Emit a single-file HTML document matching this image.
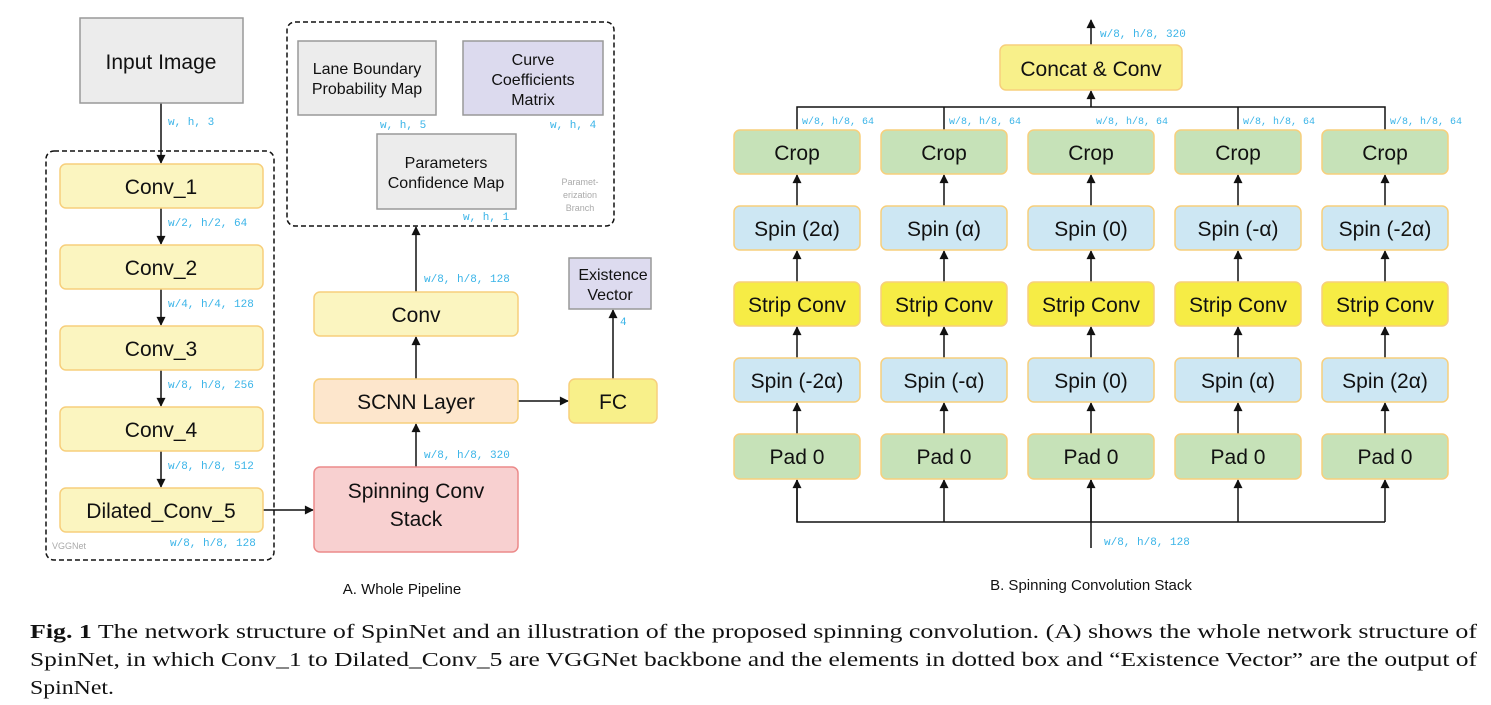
<!DOCTYPE html>
<html><head><meta charset="utf-8"><style>
body{margin:0;background:#fff;width:1491px;height:705px;overflow:hidden}
svg{display:block}
.t{font-family:"Liberation Sans",sans-serif;fill:#111;text-anchor:middle}
.m{font-family:"Liberation Mono",monospace;font-size:11px;fill:#3ab4e8}
.cap{font-family:"Liberation Serif",serif;font-size:20px;fill:#111}
</style></head><body>
<svg width="1491" height="705" viewBox="0 0 1491 705">
<defs><marker id="a" viewBox="0 0 10 10" refX="9" refY="5" markerWidth="10" markerHeight="9" markerUnits="userSpaceOnUse" orient="auto"><path d="M0,0L10,5L0,10z" fill="#111"/></marker></defs>
<g stroke="#111" stroke-width="1.5" fill="none">
<line x1="161" y1="103" x2="161" y2="163" marker-end="url(#a)"/>
<line x1="161" y1="208" x2="161" y2="244" marker-end="url(#a)"/>
<line x1="161" y1="289" x2="161" y2="325" marker-end="url(#a)"/>
<line x1="161" y1="370" x2="161" y2="406" marker-end="url(#a)"/>
<line x1="161" y1="451" x2="161" y2="487" marker-end="url(#a)"/>
<line x1="263" y1="510" x2="313" y2="510" marker-end="url(#a)"/>
<line x1="416" y1="467" x2="416" y2="424" marker-end="url(#a)"/>
<line x1="416" y1="379" x2="416" y2="337" marker-end="url(#a)"/>
<line x1="416" y1="292" x2="416" y2="227" marker-end="url(#a)"/>
<line x1="518" y1="401" x2="568" y2="401" marker-end="url(#a)"/>
<line x1="613" y1="379" x2="613" y2="310" marker-end="url(#a)"/>
<line x1="1091" y1="45" x2="1091" y2="20" marker-end="url(#a)"/>
<line x1="1091" y1="107" x2="1091" y2="91" marker-end="url(#a)"/>
<polyline points="797,130 797,107 1385,107 1385,130"/>
<line x1="944" y1="107" x2="944" y2="130"/><line x1="1238" y1="107" x2="1238" y2="130"/>
<polyline points="797,480 797,522 1385,522"/>
<line x1="1091" y1="548" x2="1091" y2="480"/>
</g>
<g stroke="#111" stroke-width="1.5">
<g id="c">
<line x1="797" y1="206" x2="797" y2="175" marker-end="url(#a)"/>
<line x1="797" y1="282" x2="797" y2="251" marker-end="url(#a)"/>
<line x1="797" y1="358" x2="797" y2="327" marker-end="url(#a)"/>
<line x1="797" y1="434" x2="797" y2="403" marker-end="url(#a)"/>
<line x1="797" y1="522" x2="797" y2="480" marker-end="url(#a)"/>
</g>
<use href="#c" x="147"/><use href="#c" x="294"/><use href="#c" x="441"/><use href="#c" x="588"/>
</g>
<g fill="none" stroke="#111" stroke-width="1.5" stroke-dasharray="5,3">
<rect x="46" y="151" width="228" height="409" rx="8"/>
<rect x="287" y="22" width="327" height="204" rx="8"/>
</g>
<rect x="80" y="18" width="163" height="85" fill="#ececec" stroke="#999" stroke-width="1.5"/>
<text class="t" x="161" y="69" font-size="21">Input Image</text>
<g fill="#fbf5c0" stroke="#f7cf7c" stroke-width="1.5">
<rect x="60" y="164" width="203" height="44" rx="6"/><rect x="60" y="245" width="203" height="44" rx="6"/>
<rect x="60" y="326" width="203" height="44" rx="6"/><rect x="60" y="407" width="203" height="44" rx="6"/>
<rect x="60" y="488" width="203" height="44" rx="6"/><rect x="314" y="292" width="204" height="44" rx="6"/>
</g>
<rect x="314" y="467" width="204" height="85" rx="6" fill="#f8d0d0" stroke="#ec8a8a" stroke-width="1.5"/>
<rect x="314" y="379" width="204" height="44" rx="6" fill="#fde6cc" stroke="#f7cf7c" stroke-width="1.5"/>
<rect x="569" y="379" width="88" height="44" rx="6" fill="#f8f08a" stroke="#f7cf7c" stroke-width="1.5"/>
<rect x="569" y="258" width="82" height="51" fill="#dddbef" stroke="#999" stroke-width="1.5"/>
<rect x="298" y="41" width="138" height="74" fill="#ececec" stroke="#999" stroke-width="1.5"/>
<rect x="463" y="41" width="140" height="74" fill="#dcdaee" stroke="#999" stroke-width="1.5"/>
<rect x="377" y="134" width="139" height="75" fill="#ececec" stroke="#999" stroke-width="1.5"/>
<g class="t" font-size="21">
<text x="161" y="194">Conv_1</text><text x="161" y="275">Conv_2</text><text x="161" y="356">Conv_3</text>
<text x="161" y="437">Conv_4</text><text x="161" y="518">Dilated_Conv_5</text>
<text x="416" y="322">Conv</text><text x="416" y="409">SCNN Layer</text><text x="613" y="409">FC</text>
<text x="416" y="498">Spinning Conv</text><text x="416" y="526">Stack</text>
</g>
<g class="t" font-size="16">
<text x="613" y="280">Existence</text><text x="610" y="300">Vector</text>
<text x="367" y="74">Lane Boundary</text><text x="367" y="94">Probability Map</text>
<text x="533" y="65">Curve</text><text x="533" y="85">Coefficients</text><text x="533" y="105">Matrix</text>
<text x="446" y="168">Parameters</text><text x="446" y="188">Confidence Map</text>
</g>
<g class="t" font-size="9" style="fill:#aaa"><text x="580" y="185">Paramet-</text><text x="580" y="198">erization</text><text x="580" y="211">Branch</text></g>
<text x="52" y="549" font-family="Liberation Sans,sans-serif" font-size="9" fill="#aaa">VGGNet</text>
<g class="m">
<text x="168" y="125">w, h, 3</text><text x="168" y="226">w/2, h/2, 64</text><text x="168" y="307">w/4, h/4, 128</text>
<text x="168" y="388">w/8, h/8, 256</text><text x="168" y="469">w/8, h/8, 512</text><text x="170" y="546">w/8, h/8, 128</text>
<text x="424" y="458">w/8, h/8, 320</text><text x="424" y="282">w/8, h/8, 128</text><text x="620" y="325">4</text>
<text x="380" y="128">w, h, 5</text><text x="550" y="128">w, h, 4</text><text x="463" y="220">w, h, 1</text>
<text x="1100" y="37">w/8, h/8, 320</text><text x="1104" y="545">w/8, h/8, 128</text>
<text x="802" y="124" font-size="10">w/8, h/8, 64</text><text x="949" y="124" font-size="10">w/8, h/8, 64</text>
<text x="1096" y="124" font-size="10">w/8, h/8, 64</text><text x="1243" y="124" font-size="10">w/8, h/8, 64</text>
<text x="1390" y="124" font-size="10">w/8, h/8, 64</text>
</g>
<rect x="1000" y="45" width="182" height="45" rx="6" fill="#f8f08a" stroke="#f7cf7c" stroke-width="1.5"/>
<text class="t" x="1091" y="76" font-size="21">Concat &amp; Conv</text>
<g id="col" stroke="#f7cf7c" stroke-width="1.5">
<rect x="734" y="130" width="126" height="44" rx="6" fill="#c6e2b8"/>
<rect x="734" y="206" width="126" height="44" rx="6" fill="#cde7f3"/>
<rect x="734" y="282" width="126" height="44" rx="6" fill="#f6ec45"/>
<rect x="734" y="358" width="126" height="44" rx="6" fill="#cde7f3"/>
<rect x="734" y="434" width="126" height="45" rx="6" fill="#c6e2b8"/>
</g>
<use href="#col" x="147"/><use href="#col" x="294"/><use href="#col" x="441"/><use href="#col" x="588"/>
<g class="t" font-size="21">
<text x="797" y="160">Crop</text><text x="944" y="160">Crop</text><text x="1091" y="160">Crop</text><text x="1238" y="160">Crop</text><text x="1385" y="160">Crop</text>
<text x="797" y="236">Spin (2α)</text><text x="944" y="236">Spin (α)</text><text x="1091" y="236">Spin (0)</text><text x="1238" y="236">Spin (-α)</text><text x="1385" y="236">Spin (-2α)</text>
<text x="797" y="312">Strip Conv</text><text x="944" y="312">Strip Conv</text><text x="1091" y="312">Strip Conv</text><text x="1238" y="312">Strip Conv</text><text x="1385" y="312">Strip Conv</text>
<text x="797" y="388">Spin (-2α)</text><text x="944" y="388">Spin (-α)</text><text x="1091" y="388">Spin (0)</text><text x="1238" y="388">Spin (α)</text><text x="1385" y="388">Spin (2α)</text>
<text x="797" y="464">Pad 0</text><text x="944" y="464">Pad 0</text><text x="1091" y="464">Pad 0</text><text x="1238" y="464">Pad 0</text><text x="1385" y="464">Pad 0</text>
</g>
<text class="t" x="402" y="594" font-size="15">A. Whole Pipeline</text>
<text class="t" x="1091" y="590" font-size="15">B. Spinning Convolution Stack</text>
<text class="cap" x="30" y="638" textLength="1447" lengthAdjust="spacingAndGlyphs"><tspan font-weight="bold">Fig. 1</tspan>   The network structure of SpinNet and an illustration of the proposed spinning convolution. (A) shows the whole network structure of</text>
<text class="cap" x="30" y="666" textLength="1447" lengthAdjust="spacingAndGlyphs">SpinNet, in which Conv_1 to Dilated_Conv_5 are VGGNet backbone and the elements in dotted box and “Existence Vector” are the output of</text>
<text class="cap" x="30" y="694" textLength="84" lengthAdjust="spacingAndGlyphs">SpinNet.</text>
</svg>
</body></html>
